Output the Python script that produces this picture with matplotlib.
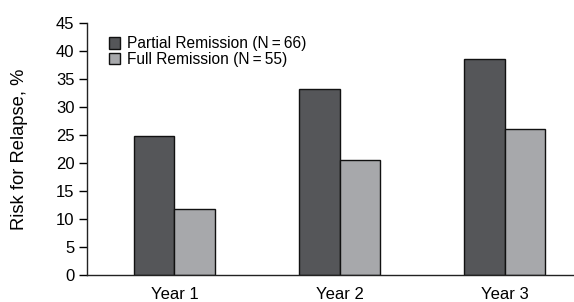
import matplotlib
matplotlib.use("Agg")
import matplotlib.pyplot as plt
import numpy as np

categories = ["Year 1", "Year 2", "Year 3"]
partial = [24.8, 33.3, 38.6]
full = [11.8, 20.5, 26.1]
labels = ["Partial Remission (N\u2009=\u200966)", "Full Remission (N\u2009=\u200955)"]
yticks = [0, 5, 10, 15, 20, 25, 30, 35, 40, 45]

plt.rcParams['font.family'] = ['Liberation Sans', 'DejaVu Sans']

fig = plt.figure(figsize=(5.74, 3.02), dpi=100)
L, B, T = 87/574, 27.3/302, 23.3/302
ax = fig.add_axes([L, B, 1 - L, 1 - B - T])

x = np.arange(len(categories))
w = 0.247
ax.bar(x - w/2, partial, w, color='#555659', edgecolor='#111111', linewidth=1.0, label=labels[0])
ax.bar(x + w/2, full, w, color='#a7a8ab', edgecolor='#111111', linewidth=1.0, label=labels[1])

ax.set_xlim(-0.53, 2.42)
ax.set_ylim(0, 45)
ax.set_yticks(yticks)
ax.set_xticks(x)
ax.set_xticklabels(categories)
ax.tick_params(axis='x', length=0, pad=9, labelsize=12)
ax.tick_params(axis='y', length=6, width=1, direction='out', labelsize=12, pad=3)
for s in ['top', 'right']:
    ax.spines[s].set_visible(False)
for s in ['left', 'bottom']:
    ax.spines[s].set_linewidth(1.0)
    ax.spines[s].set_color('#222222')

ax.set_ylabel("Risk for Relapse, %", fontsize=13.2)
ax.yaxis.set_label_coords((28 - 87) / (574 - 87), 0.5)

ax.legend(loc='upper left', bbox_to_anchor=(0.025, 0.985), frameon=False, fontsize=11.2,
          handlelength=0.75, handleheight=0.75, handletextpad=0.45, labelspacing=0.05,
          borderaxespad=0.2)

fig.savefig("out.png", dpi=100)
